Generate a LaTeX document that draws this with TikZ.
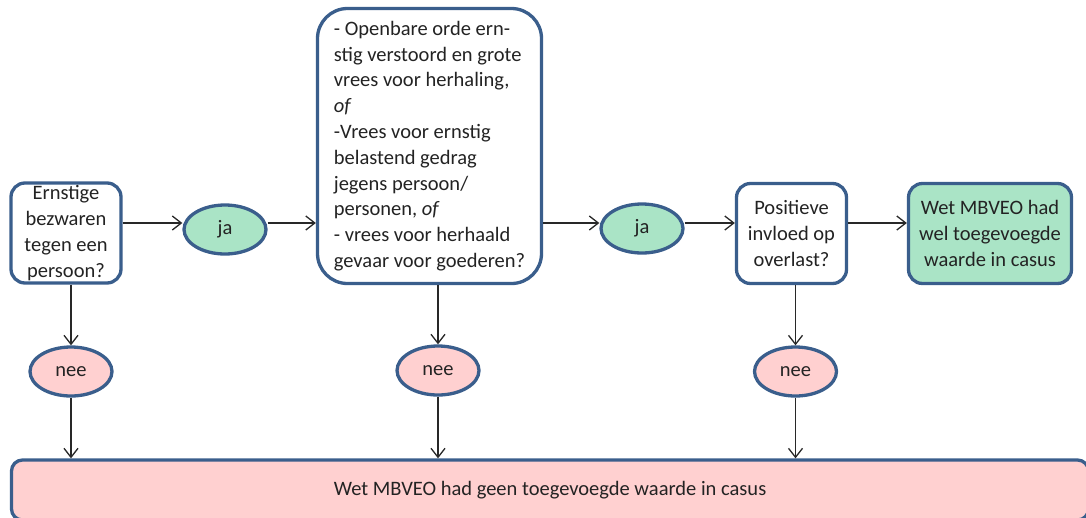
\documentclass[tikz,border=0pt]{standalone}
\usepackage{fontspec}
\setmainfont{Carlito}
\usetikzlibrary{arrows.meta,shapes.geometric}
\definecolor{bordc}{RGB}{58,94,140}
\definecolor{greenf}{RGB}{170,228,198}
\definecolor{pinkf}{RGB}{255,208,208}
\definecolor{txtc}{RGB}{35,35,35}
\definecolor{linec}{RGB}{40,40,40}
\tikzset{
  base/.style={draw=bordc, line width=3.3pt, text=txtc, inner sep=0pt,
    font=\fontsize{20.5}{25.8}\selectfont},
  qbox/.style={base, rectangle, rounded corners=14pt, fill=white, align=center},
  oval/.style={base, ellipse, minimum width=82pt, minimum height=49pt},
  yesoval/.style={oval, fill=greenf},
  nooval/.style={oval, fill=pinkf},
  arr/.style={draw=linec, line width=1.3pt, -{Straight Barb[length=9pt,width=14pt,line width=1.3pt]}}
}
\begin{document}
\begin{tikzpicture}[x=1pt,y=-1pt]
\useasboundingbox (0,0) rectangle (1086,517);
\node[qbox, minimum width=110pt, minimum height=100pt] (b1) at (66,233) {Ernstige\\bezwaren\\tegen een\\persoon?};
\node[yesoval] (ja1) at (225,229.5) {ja};
\node[qbox, rounded corners=30pt, minimum width=224pt, minimum height=275pt, align=left] (b2) at (429.5,146) {- Openbare orde ern-\\stig verstoord en grote\\vrees voor herhaling,\\\textit{of}\\-Vrees voor ernstig\\belastend gedrag\\jegens persoon/\\personen, \textit{of}\\- vrees voor herhaald\\gevaar voor goederen?};
\node[yesoval] (ja2) at (642,228.5) {ja};
\node[qbox, minimum width=110pt, minimum height=100pt] (b3) at (791.5,233.5) {Positieve\\invloed op\\overlast?};
\node[qbox, fill=greenf, minimum width=163pt, minimum height=100pt] (res) at (990,233.5) {Wet MBVEO had\\wel toegevoegde\\waarde in casus};
\node[nooval] (nee1) at (71,371.5) {nee};
\node[nooval] (nee2) at (438,370.5) {nee};
\node[nooval] (nee3) at (795.5,371.5) {nee};
\node[qbox, fill=pinkf, rounded corners=11pt, minimum width=1077pt, minimum height=60pt] (bot) at (550,490) {Wet MBVEO had geen toegevoegde waarde in casus};
\coordinate (row) at (0,223);
\draw[arr] (b1.east |- row) -- (ja1.west |- row);
\draw[arr] (ja1.east |- row) -- (b2.west |- row);
\draw[arr] (b2.east |- row) -- (ja2.west |- row);
\draw[arr] (ja2.east |- row) -- (b3.west |- row);
\draw[arr] (b3.east |- row) -- (res.west |- row);
\draw[arr] (nee1.north |- b1.south) -- (nee1.north);
\draw[arr] (nee2.north |- b2.south) -- (nee2.north);
\draw[arr] (nee3.north |- b3.south) -- (nee3.north);
\draw[arr] (nee1.south) -- (nee1.south |- bot.north);
\draw[arr] (nee2.south) -- (nee2.south |- bot.north);
\draw[arr] (nee3.south) -- (nee3.south |- bot.north);
\end{tikzpicture}
\end{document}
